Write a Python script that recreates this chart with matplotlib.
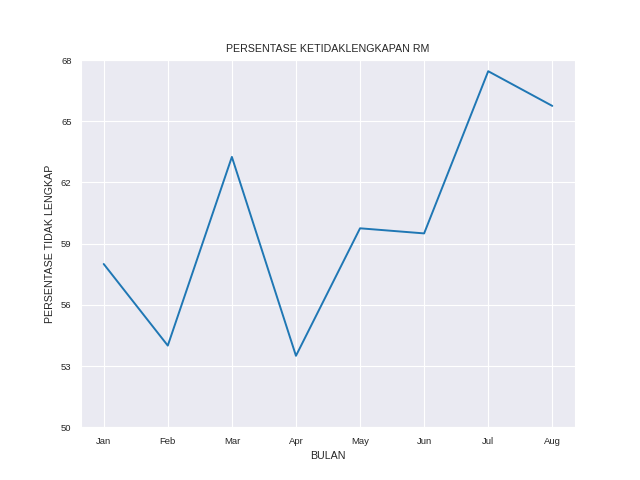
import numpy as np
import matplotlib
matplotlib.use('Agg')
import matplotlib.pyplot as plt
import seaborn as sns

bulan = ['Jan', 'Feb', 'Mar', 'Apr', 'May', 'Jun', 'Jul', 'Aug']
persen = [58.0, 54.0, 63.25, 53.5, 59.75, 59.5, 67.45, 65.75]
yticks = [50, 53, 56, 59, 62, 65, 68]

sns.set_style('darkgrid')
plt.rcParams['font.family'] = ['Liberation Sans', 'DejaVu Sans']

fig, ax = plt.subplots(figsize=(6.4, 4.8), dpi=100)
fig.subplots_adjust(left=0.127, right=0.898, top=0.875, bottom=0.11)
ax.plot(bulan, persen, color='#1f77b4', linewidth=1.4)
ax.set_ylim(50, 68)
ax.set_yticks(yticks)
ax.tick_params(labelsize=6.8)
ax.set_title('PERSENTASE KETIDAKLENGKAPAN RM', fontsize=7.7, color='#262626')
ax.set_xlabel('BULAN', fontsize=7.7)
ax.set_ylabel('PERSENTASE TIDAK LENGKAP', fontsize=7.7)
fig.savefig('out.png')
